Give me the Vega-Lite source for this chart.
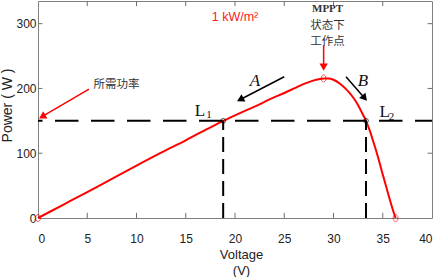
{
  "$schema": "https://vega.github.io/schema/vega-lite/v6.json",
  "width": 394,
  "height": 217,
  "autosize": {"type": "none"},
  "padding": {"left": 38, "top": 1, "right": 10, "bottom": 59},
  "background": "white",
  "config": {
    "view": {"stroke": "#808080", "strokeWidth": 1},
    "axis": {
      "grid": false,
      "domain": false,
      "ticks": false,
      "tickSize": 0,
      "labelColor": "#222222",
      "labelFont": "Liberation Sans",
      "labelFontSize": 12,
      "titleFont": "Liberation Sans",
      "titleFontWeight": "normal",
      "titleColor": "#222222",
      "titleFontSize": 13
    }
  },
  "datasets": {
    "curve": [
      {"V": 0, "P": 0}, {"V": 2.5, "P": 20}, {"V": 5, "P": 40}, {"V": 7.5, "P": 60.5},
      {"V": 10, "P": 81}, {"V": 12.5, "P": 101}, {"V": 15, "P": 120}, {"V": 17, "P": 136},
      {"V": 18.8, "P": 150}, {"V": 20.5, "P": 162}, {"V": 22, "P": 172}, {"V": 23.5, "P": 183},
      {"V": 25, "P": 193}, {"V": 26, "P": 200}, {"V": 27, "P": 207}, {"V": 28, "P": 212.5},
      {"V": 29, "P": 215.5}, {"V": 29.5, "P": 215.5}, {"V": 30, "P": 213.5}, {"V": 30.7, "P": 207},
      {"V": 31.3, "P": 198.5}, {"V": 32, "P": 186}, {"V": 32.5, "P": 174}, {"V": 32.9, "P": 162},
      {"V": 33.3, "P": 150}, {"V": 33.7, "P": 134}, {"V": 34, "P": 120}, {"V": 34.5, "P": 95},
      {"V": 35, "P": 67}, {"V": 35.5, "P": 40}, {"V": 36, "P": 14}, {"V": 36.3, "P": 0}
    ],
    "xticks": [{"t": 5}, {"t": 10}, {"t": 15}, {"t": 20}, {"t": 25}, {"t": 30}, {"t": 35}],
    "yticks": [{"t": 100}, {"t": 200}, {"t": 300}],
    "ends": [{"V": 0, "P": 0}, {"V": 29, "P": 215.5}, {"V": 36.3, "P": 0}],
    "level": [{"P": 150}],
    "ops": [{"V": 18.8, "P": 150, "P0": 0}, {"V": 33.3, "P": 150, "P0": 0}],
    "arrows": [
      {"x1": 5.18, "y1": 199.1, "x2": 0.53, "y2": 157.5, "heading": 240, "tone": "red"},
      {"x1": 29.0, "y1": 267, "x2": 29.0, "y2": 234.6, "heading": 180, "tone": "red"},
      {"x1": 25.0, "y1": 218.1, "x2": 20.64, "y2": 183.7, "heading": 242.6, "tone": "black"},
      {"x1": 31.27, "y1": 218.1, "x2": 33.08, "y2": 186.5, "heading": 139, "tone": "black"}
    ],
    "cjk": [
      {"V": 29.4, "P": 297, "label": "状态下"},
      {"V": 29.4, "P": 271.5, "label": "工作点"},
      {"V": 7.97, "P": 205.3, "label": "所需功率"}
    ],
    "serif": [{"V": 29.4, "P": 323, "label": "MPPT"}],
    "red": [{"V": 20.0, "P": 310.3, "label": "1 kW/m²"}],
    "bigL": [{"V": 16.45, "P": 165.5, "label": "L"}, {"V": 35.2, "P": 164, "label": "L"}],
    "subs": [{"V": 17.36, "P": 158.8, "label": "1"}, {"V": 35.9, "P": 155.4, "label": "2"}],
    "dirs": [{"V": 22.03, "P": 211.8, "label": "A"}, {"V": 33.0, "P": 211.8, "label": "B"}]
  },
  "layer": [
    {
      "data": {"name": "curve"},
      "mark": {"type": "line", "color": "#ff0000", "strokeWidth": 2, "interpolate": "monotone"},
      "encoding": {
        "x": {"field": "V", "type": "quantitative", "scale": {"domain": [0, 40], "nice": false},
          "axis": {"orient": "bottom", "values": [0, 5, 10, 15, 20, 25, 30, 35, 40], "labelPadding": 15,
            "title": ["Voltage", "(V)"], "titleLineHeight": 16, "titleX": 203, "titleY": 30, "titleBaseline": "top", "titleAnchor": "middle"}},
        "y": {"field": "P", "type": "quantitative", "scale": {"domain": [0, 335], "nice": false},
          "axis": {"orient": "left", "values": [0, 100, 200, 300], "labelPadding": 2,
            "title": "Power ( W )", "titleFontSize": 14, "titleX": -31, "titleY": 104, "titleBaseline": "middle", "titleAngle": -90}}
      }
    },
    {
      "data": {"name": "xticks"},
      "mark": {"type": "rule", "color": "#707070", "strokeWidth": 1},
      "encoding": {
        "x": {"field": "t", "type": "quantitative"},
        "y": {"datum": 0, "type": "quantitative"},
        "y2": {"datum": 8}
      }
    },
    {
      "data": {"name": "xticks"},
      "mark": {"type": "rule", "color": "#707070", "strokeWidth": 1},
      "encoding": {
        "x": {"field": "t", "type": "quantitative"},
        "y": {"datum": 327, "type": "quantitative"},
        "y2": {"datum": 335}
      }
    },
    {
      "data": {"name": "yticks"},
      "mark": {"type": "rule", "color": "#707070", "strokeWidth": 1},
      "encoding": {
        "y": {"field": "t", "type": "quantitative"},
        "x": {"datum": 0, "type": "quantitative"},
        "x2": {"datum": 0.45}
      }
    },
    {
      "data": {"name": "yticks"},
      "mark": {"type": "rule", "color": "#707070", "strokeWidth": 1},
      "encoding": {
        "y": {"field": "t", "type": "quantitative"},
        "x": {"datum": 39.55, "type": "quantitative"},
        "x2": {"datum": 40}
      }
    },
    {
      "data": {"name": "ends"},
      "mark": {"type": "point", "shape": "M0,-1A0.7,1 0 1,1 0,1A0.7,1 0 1,1 0,-1Z", "size": 49, "color": "#ff0000", "strokeWidth": 1, "filled": false},
      "encoding": {
        "x": {"field": "V", "type": "quantitative"},
        "y": {"field": "P", "type": "quantitative"}
      }
    },
    {
      "data": {"name": "level"},
      "mark": {"type": "rule", "color": "#000000", "strokeWidth": 2, "strokeDash": [23.5, 12.5], "strokeDashOffset": 6.5},
      "encoding": {"y": {"field": "P", "type": "quantitative"}}
    },
    {
      "data": {"name": "ops"},
      "mark": {"type": "rule", "color": "#000000", "strokeWidth": 2, "strokeDash": [15, 7]},
      "encoding": {
        "x": {"field": "V", "type": "quantitative"},
        "y": {"field": "P0", "type": "quantitative"},
        "y2": {"field": "P"}
      }
    },
    {
      "data": {"name": "ops"},
      "mark": {"type": "point", "shape": "circle", "size": 22, "color": "#000000", "strokeWidth": 1, "filled": false},
      "encoding": {
        "x": {"field": "V", "type": "quantitative"},
        "y": {"field": "P", "type": "quantitative"}
      }
    },
    {
      "data": {"name": "arrows"},
      "mark": {"type": "rule", "strokeWidth": 1.5},
      "encoding": {
        "x": {"field": "x1", "type": "quantitative"},
        "y": {"field": "y1", "type": "quantitative"},
        "x2": {"field": "x2"},
        "y2": {"field": "y2"},
        "color": {"field": "tone", "type": "nominal", "scale": {"domain": ["red", "black"], "range": ["#ff0000", "#000000"]}, "legend": null}
      }
    },
    {
      "data": {"name": "arrows"},
      "mark": {"type": "point", "shape": "triangle", "size": 70, "filled": true, "opacity": 1},
      "encoding": {
        "x": {"field": "x2", "type": "quantitative"},
        "y": {"field": "y2", "type": "quantitative"},
        "angle": {"field": "heading", "type": "quantitative", "scale": null},
        "color": {"field": "tone", "type": "nominal", "scale": {"domain": ["red", "black"], "range": ["#ff0000", "#000000"]}, "legend": null}
      }
    },
    {
      "data": {"name": "cjk"},
      "mark": {"type": "text", "font": "Noto Sans CJK SC", "fontSize": 11.5, "color": "#333333", "align": "center", "baseline": "middle"},
      "encoding": {
        "x": {"field": "V", "type": "quantitative"},
        "y": {"field": "P", "type": "quantitative"},
        "text": {"field": "label"}
      }
    },
    {
      "data": {"name": "serif"},
      "mark": {"type": "text", "font": "Liberation Serif", "fontSize": 11, "fontWeight": "bold", "color": "#333333", "align": "center", "baseline": "middle"},
      "encoding": {
        "x": {"field": "V", "type": "quantitative"},
        "y": {"field": "P", "type": "quantitative"},
        "text": {"field": "label"}
      }
    },
    {
      "data": {"name": "red"},
      "mark": {"type": "text", "font": "Liberation Sans", "fontSize": 12.5, "color": "#ff2020", "align": "center", "baseline": "middle"},
      "encoding": {
        "x": {"field": "V", "type": "quantitative"},
        "y": {"field": "P", "type": "quantitative"},
        "text": {"field": "label"}
      }
    },
    {
      "data": {"name": "bigL"},
      "mark": {"type": "text", "font": "Liberation Serif", "fontSize": 17, "color": "#111111", "align": "center", "baseline": "middle"},
      "encoding": {
        "x": {"field": "V", "type": "quantitative"},
        "y": {"field": "P", "type": "quantitative"},
        "text": {"field": "label"}
      }
    },
    {
      "data": {"name": "subs"},
      "mark": {"type": "text", "font": "Liberation Serif", "fontSize": 11, "color": "#111111", "align": "center", "baseline": "middle"},
      "encoding": {
        "x": {"field": "V", "type": "quantitative"},
        "y": {"field": "P", "type": "quantitative"},
        "text": {"field": "label"}
      }
    },
    {
      "data": {"name": "dirs"},
      "mark": {"type": "text", "font": "Liberation Serif", "fontSize": 17, "fontStyle": "italic", "color": "#111111", "align": "center", "baseline": "middle"},
      "encoding": {
        "x": {"field": "V", "type": "quantitative"},
        "y": {"field": "P", "type": "quantitative"},
        "text": {"field": "label"}
      }
    }
  ]
}
